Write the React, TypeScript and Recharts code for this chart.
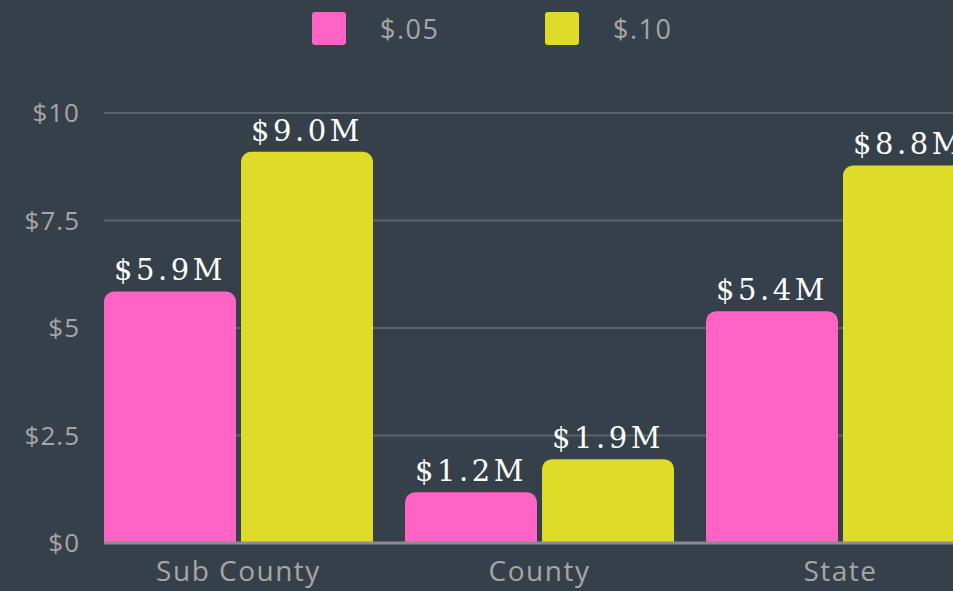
import { BarChart, Bar, XAxis, YAxis, CartesianGrid, LabelList } from 'recharts'

const categories = ['Sub County', 'County', 'State']
const seriesNames = ['$.05', '$.10']
const values05 = [5.85, 1.18, 5.39]
const values10 = [9.1, 1.95, 8.78]
const labels05 = ['$5.9M', '$1.2M', '$5.4M']
const labels10 = ['$9.0M', '$1.9M', '$8.8M']
const yTicks = [0, 2.5, 5, 7.5, 10]

const BG = '#36404a'
const PINK = '#ff63c3'
const YELLOW = '#dedc28'
const TEXT = '#a6a6a6'
const colors = [PINK, YELLOW]

const data = categories.map((name, i) => ({
  name,
  v05: values05[i],
  v10: values10[i],
  l05: labels05[i],
  l10: labels10[i],
}))

const labelStyle = {
  fill: '#ffffff',
  fontFamily: '"DejaVu Serif", serif',
  fontSize: 29,
  letterSpacing: 3.5,
}

function ChartLegend() {
  return (
    <div
      style={{
        position: 'absolute',
        top: 12,
        left: 312,
        display: 'flex',
        alignItems: 'center',
        fontFamily: '"Open Sans", sans-serif',
        fontSize: 27,
        letterSpacing: 1.5,
        color: TEXT,
      }}
    >
      {seriesNames.map((s, i) => (
        <div
          key={s}
          style={{ display: 'flex', alignItems: 'center', width: i === 0 ? 233 : 'auto' }}
        >
          <div
            style={{ width: 34, height: 33, background: colors[i], borderRadius: 3, marginRight: 34 }}
          />
          <span style={{ lineHeight: '33px' }}>{s}</span>
        </div>
      ))}
    </div>
  )
}

export default function App() {
  return (
    <div
      style={{
        position: 'fixed',
        inset: 0,
        overflow: 'hidden',
        background: BG,
      }}
    >
      <ChartLegend />
      <BarChart
        width={991}
        height={591}
        data={data}
        margin={{ top: 113, right: 0, left: 0, bottom: 0 }}
        barGap={5}
        barCategoryGap={16}
      >
        <CartesianGrid vertical={false} stroke="#5b636b" strokeWidth={2} />
        <XAxis
          dataKey="name"
          height={48}
          padding={{ left: -16, right: 0 }}
          axisLine={{ stroke: '#8c8c8e', strokeWidth: 3 }}
          tickLine={false}
          tickSize={0}
          tickMargin={18}
          tick={{ fill: TEXT, fontSize: 28, letterSpacing: 1.5, fontFamily: '"Open Sans", sans-serif' }}
        />
        <YAxis
          width={104}
          domain={[0, 10]}
          ticks={yTicks}
          axisLine={false}
          tickLine={false}
          tickSize={0}
          tickMargin={24}
          tickFormatter={(v) => `$${v}`}
          tick={{ fill: TEXT, fontSize: 26, letterSpacing: 1, fontFamily: '"Open Sans", sans-serif' }}
        />
        <Bar dataKey="v05" fill={PINK} radius={[10, 10, 0, 0]} isAnimationActive={false}>
          <LabelList dataKey="l05" position="top" offset={11} style={labelStyle} />
        </Bar>
        <Bar dataKey="v10" fill={YELLOW} radius={[10, 10, 0, 0]} isAnimationActive={false}>
          <LabelList dataKey="l10" position="top" offset={11} style={labelStyle} />
        </Bar>
      </BarChart>
    </div>
  )
}
